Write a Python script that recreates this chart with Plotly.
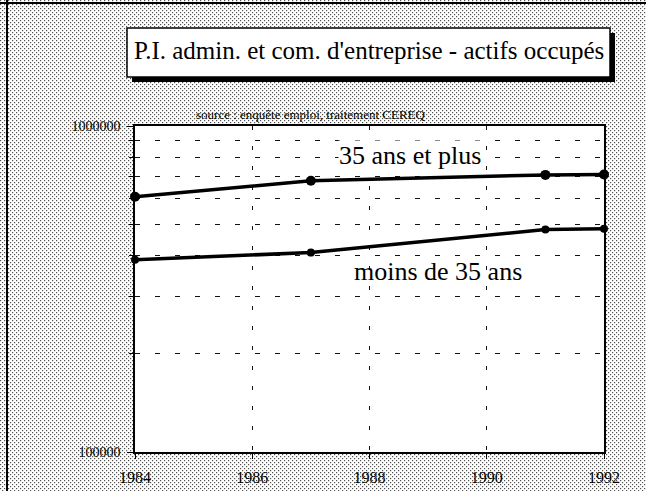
import base64
import plotly.graph_objects as go

# ---- data ----
years_plus = [1984, 1987, 1991, 1992]
actifs_35_plus = [607000, 679000, 708000, 710000]
years_moins = [1984, 1987, 1991, 1992]
actifs_moins_35 = [389000, 409000, 481000, 484000]

x_tick_vals = [1984, 1986, 1988, 1990, 1992]
x_tick_text = ["1984", "1986", "1988", "1990", "1992"]
y_tick_vals = [100000, 1000000]
y_tick_text = ["100000", "1000000"]
y_minor_vals = [200000, 300000, 400000, 500000, 600000, 700000, 800000, 900000]

title_text = "P.I. admin. et com. d'entreprise - actifs occupés"
source_text = "source : enquête emploi, traitement CEREQ"
label_plus = "35 ans et plus"
label_moins = "moins de 35 ans"

W, H = 646, 491
SERIF = "Liberation Serif, Times New Roman, serif"


def px(x):
    return x / W


def py(y):
    return 1 - y / H


# plot area in pixels
L, R, T, B = 135, 604, 126, 452

fig = go.Figure()
fig.add_trace(go.Scatter(
    x=years_plus, y=actifs_35_plus, mode="lines+markers",
    line=dict(color="black", width=3.5),
    marker=dict(color="black", size=10),
    cliponaxis=False, showlegend=False, name=label_plus))
fig.add_trace(go.Scatter(
    x=years_moins, y=actifs_moins_35, mode="lines+markers",
    line=dict(color="black", width=3.5),
    marker=dict(color="black", size=8),
    cliponaxis=False, showlegend=False, name=label_moins))

# halftone background pattern (white where the plot area is)
svg = (
    f'<svg xmlns="http://www.w3.org/2000/svg" width="{W}" height="{H}" '
    f'viewBox="0 0 {W} {H}" preserveAspectRatio="none">'
    '<defs><pattern id="p" width="4" height="4" patternUnits="userSpaceOnUse">'
    '<rect width="4" height="4" fill="#ffffff"/>'
    '<rect x="0" y="0" width="1.2" height="1.2" fill="#505050"/>'
    '<rect x="2" y="2" width="1.2" height="1.2" fill="#505050"/>'
    '</pattern></defs>'
    f'<rect width="{W}" height="{H}" fill="url(#p)"/>'
    f'<rect x="{L}" y="{T}" width="{R - L}" height="{B - T}" fill="#ffffff"/>'
    '</svg>'
)
src = "data:image/svg+xml;base64," + base64.b64encode(svg.encode()).decode()

axis_common = dict(showline=True, linecolor="black", linewidth=1.5, mirror=True,
                   zeroline=False, automargin=False)

fig.update_layout(
    width=W, height=H,
    margin=dict(l=0, r=0, t=0, b=0),
    paper_bgcolor="#d6d6d6",
    plot_bgcolor="white",
    font=dict(family=SERIF, color="black"),
    images=[dict(source=src, xref="paper", yref="paper", x=0, y=1,
                 sizex=1, sizey=1, xanchor="left", yanchor="top",
                 sizing="stretch", layer="below")],
    xaxis=dict(
        domain=[px(L), px(R)], range=[1984, 1992],
        tickvals=x_tick_vals, ticktext=x_tick_text,
        ticks="outside", ticklen=5, tickcolor="black", tickwidth=1,
        tickfont=dict(size=16, family=SERIF),
        ticklabelstandoff=5,
        showgrid=True, gridcolor="#111", gridwidth=1, griddash="4px,16px",
        **axis_common),
    yaxis=dict(
        domain=[py(B), py(T)], type="log", range=[5, 6],
        tickvals=y_tick_vals, ticktext=y_tick_text,
        ticks="outside", ticklen=6, tickcolor="black", tickwidth=1,
        tickfont=dict(size=14, family=SERIF),
        ticklabelstandoff=4,
        showgrid=False,
        minor=dict(tickvals=y_minor_vals, ticks="outside", ticklen=4,
                   tickcolor="black", tickwidth=1,
                   showgrid=True, gridcolor="#111", gridwidth=1,
                   griddash="5px,15px"),
        **axis_common),
    xaxis2=dict(domain=[px(L), px(R)], range=[1984, 1992], overlaying="x",
                anchor="y2", tickvals=x_tick_vals[1:-1], ticks="inside",
                ticklen=5, tickcolor="black", showticklabels=False,
                showgrid=False, showline=False, zeroline=False),
    yaxis2=dict(domain=[py(B), py(T)], type="log", range=[5, 6],
                overlaying="y", anchor="x2", tickvals=y_minor_vals,
                ticks="inside", ticklen=4, tickcolor="black",
                showticklabels=False, showgrid=False, showline=False,
                zeroline=False),
    shapes=[
        # frame lines of the page
        dict(type="line", xref="paper", yref="paper", x0=0, x1=1,
             y0=py(3), y1=py(3), line=dict(color="black", width=2)),
        dict(type="line", xref="paper", yref="paper", x0=px(7), x1=px(7),
             y0=0, y1=1, line=dict(color="black", width=2)),
        # title box shadow and box
        dict(type="rect", xref="paper", yref="paper", x0=px(132), x1=px(615),
             y0=py(82), y1=py(33), fillcolor="black", line=dict(width=0)),
        dict(type="rect", xref="paper", yref="paper", x0=px(127), x1=px(610),
             y0=py(77), y1=py(28), fillcolor="white",
             line=dict(color="black", width=1.5)),
    ],
    annotations=[
        dict(text=title_text, xref="paper", yref="paper", x=px(369), y=py(51),
             xanchor="center", yanchor="middle", showarrow=False,
             font=dict(size=25, family=SERIF)),
        dict(text=source_text, xref="paper", yref="paper", x=px(310), y=py(114),
             xanchor="center", yanchor="middle", showarrow=False,
             font=dict(size=13, family=SERIF)),
        dict(text=label_plus, xref="paper", yref="paper", x=px(410), y=py(156),
             xanchor="center", yanchor="middle", showarrow=False,
             bgcolor="white", borderpad=0,
             font=dict(size=26, family=SERIF)),
        dict(text=label_moins, xref="paper", yref="paper", x=px(438), y=py(271),
             xanchor="center", yanchor="middle", showarrow=False,
             font=dict(size=26, family=SERIF)),
    ],
)

fig.write_html("out.html", config={"displayModeBar": False},
               post_script="document.body.style.margin='0';")
